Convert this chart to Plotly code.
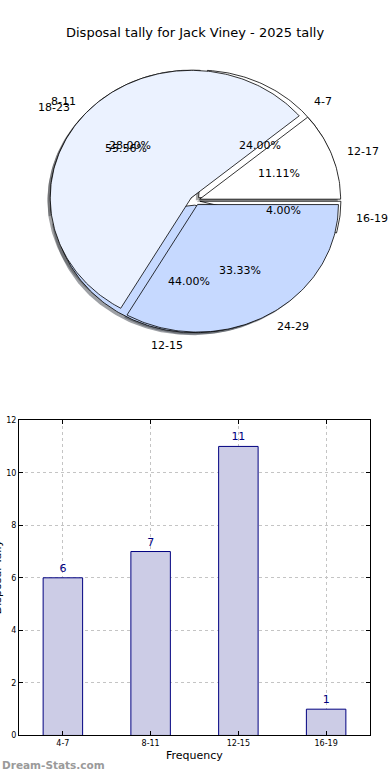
import numpy as np
import plotly.graph_objects as go

# ---------------- data ----------------
title_text = "Disposal tally for Jack Viney - 2025 tally"
pie1_labels = ["4-7", "8-11", "12-15", "16-19"]
pie1_values = [6, 7, 11, 1]
pie2_labels = ["12-17", "18-23", "24-29"]
pie2_values = [1, 5, 3]
pie_colors = ["#FFFFFF", "#EBF2FF", "#C6D9FF"]

bar_categories = ["4-7", "8-11", "12-15", "16-19"]
bar_values = [6, 7, 11, 1]
y_ticks = [0, 2, 4, 6, 8, 10, 12]

# ---------------- layout constants ----------------
W, H = 390, 780
CX, CY = 195, 199        # pie centre in pixels
RX, RY = 141, 129        # ellipse radii in pixels
EXPLODE = 0.035
LABEL_D = 1.1
PCT_D = 0.6
FONT = "DejaVu Sans"

fig = go.Figure()


def wedge_xy(a0, a1, dx, dy):
    th = np.radians(np.linspace(a0, a1, max(int(abs(a1 - a0)), 2) + 1))
    xs = np.concatenate([[dx], dx + np.cos(th), [dx]])
    ys = np.concatenate([[dy], dy + np.sin(th), [dy]])
    return xs, ys


def pie_geometry(values):
    total = float(sum(values))
    fr = [v / total for v in values]
    out = []
    start = 0.0
    for f in fr:
        a0, a1 = start * 360, (start + f) * 360
        mid = np.radians((a0 + a1) / 2)
        out.append((a0, a1, mid, f))
        start += f
    return out


def shade(hexc):
    r, g, b = int(hexc[1:3], 16), int(hexc[3:5], 16), int(hexc[5:7], 16)
    return "rgba(%d,%d,%d,0.5)" % (0.3 * r, 0.3 * g, 0.3 * b)


pies = [(pie1_labels, pie1_values), (pie2_labels, pie2_values)]
geoms = [pie_geometry(v) for _, v in pies]

# shadows first (lower zorder than all wedges)
for (labels, values), geom in zip(pies, geoms):
    for i, (a0, a1, mid, f) in enumerate(geom):
        col = pie_colors[i % len(pie_colors)]
        dx, dy = EXPLODE * np.cos(mid), EXPLODE * np.sin(mid)
        xs, ys = wedge_xy(a0, a1, dx - 0.02, dy - 0.02)
        fig.add_trace(go.Scatter(x=xs, y=ys, mode="lines", fill="toself",
                                 fillcolor=shade(col),
                                 line=dict(color="rgba(0,0,0,0)", width=0),
                                 xaxis="x2", yaxis="y2", hoverinfo="skip",
                                 showlegend=False))

annotations = []
for (labels, values), geom in zip(pies, geoms):
    for i, (a0, a1, mid, f) in enumerate(geom):
        col = pie_colors[i % len(pie_colors)]
        dx, dy = EXPLODE * np.cos(mid), EXPLODE * np.sin(mid)
        xs, ys = wedge_xy(a0, a1, dx, dy)
        fig.add_trace(go.Scatter(x=xs, y=ys, mode="lines", fill="toself",
                                 fillcolor=col,
                                 line=dict(color="black", width=0.8),
                                 xaxis="x2", yaxis="y2", hoverinfo="skip",
                                 showlegend=False))
        lx = dx + LABEL_D * np.cos(mid)
        ly = dy + LABEL_D * np.sin(mid)
        annotations.append(dict(x=lx, y=ly, xref="x2", yref="y2",
                                text=labels[i], showarrow=False,
                                xanchor="left" if lx > 0 else "right",
                                yanchor="middle",
                                font=dict(family=FONT, size=11, color="black")))
        px = dx + PCT_D * np.cos(mid)
        py = dy + PCT_D * np.sin(mid)
        annotations.append(dict(x=px, y=py, xref="x2", yref="y2",
                                text="%.2f%%" % (f * 100), showarrow=False,
                                xanchor="center", yanchor="middle",
                                font=dict(family=FONT, size=11, color="black")))

# ---------------- bar chart ----------------
fig.add_trace(go.Bar(x=bar_categories, y=bar_values, width=0.45,
                     marker=dict(color="#CCCCE6",
                                 line=dict(color="#000080", width=1)),
                     text=[str(v) for v in bar_values],
                     textposition="outside",
                     textfont=dict(family=FONT, size=11, color="#000080"),
                     cliponaxis=False, hoverinfo="skip", showlegend=False,
                     xaxis="x", yaxis="y"))

# titles / text
annotations.append(dict(x=0.5, y=1 - 29 / H, xref="paper", yref="paper",
                        text=title_text, showarrow=False, xanchor="center",
                        yanchor="middle",
                        font=dict(family=FONT, size=13, color="black")))
annotations.append(dict(x=(19 + 370) / 2 / W, y=1 - 760 / H, xref="paper",
                        yref="paper", text="Frequency", showarrow=False,
                        xanchor="center", yanchor="middle",
                        font=dict(family=FONT, size=11, color="black")))
annotations.append(dict(x=-3 / W, y=1 - 580 / H, xref="paper", yref="paper",
                        text="Disposal Tally", showarrow=False, textangle=-90,
                        xanchor="center", yanchor="middle",
                        font=dict(family=FONT, size=11, color="black")))
annotations.append(dict(x=0, y=1 - 770 / H, xref="paper", yref="paper",
                        text="<b>Dream-Stats.com</b>", showarrow=False,
                        xanchor="left", yanchor="middle",
                        font=dict(family=FONT, size=10.5, color="#9a9a9a")))

grid_col = "#c4c4c4"
fig.update_layout(
    width=W, height=H,
    margin=dict(l=0, r=0, t=0, b=0),
    paper_bgcolor="white", plot_bgcolor="white",
    showlegend=False,
    annotations=annotations,
    xaxis=dict(domain=[19 / W, 370 / W], range=[-0.5, 3.5], type="category",
               showline=True, mirror="ticks", linecolor="black", linewidth=1,
               ticks="inside", ticklen=4, tickcolor="black",
               showgrid=True, gridcolor=grid_col, griddash="dot",
               gridwidth=1, tickfont=dict(family=FONT, size=8, color="black"),
               zeroline=False, fixedrange=True),
    yaxis=dict(domain=[1 - 740 / H, 1 - 421 / H], range=[0, 12],
               tickvals=y_ticks, showline=True, mirror="ticks",
               linecolor="black", linewidth=1, ticks="inside", ticklen=4,
               tickcolor="black", showgrid=True, gridcolor=grid_col,
               griddash="dot", gridwidth=1,
               tickfont=dict(family=FONT, size=8, color="black"),
               zeroline=False, fixedrange=True),
    xaxis2=dict(domain=[0, 1], range=[-CX / RX, (W - CX) / RX],
                visible=False, fixedrange=True, anchor="y2"),
    yaxis2=dict(domain=[0.5, 1], range=[-(390 - CY) / RY, CY / RY],
                visible=False, fixedrange=True, anchor="x2"),
)

fig.write_html(
    "out.html",
    config={"displayModeBar": False},
    post_script="document.body.style.margin='0';document.body.style.overflow='hidden';",
)
